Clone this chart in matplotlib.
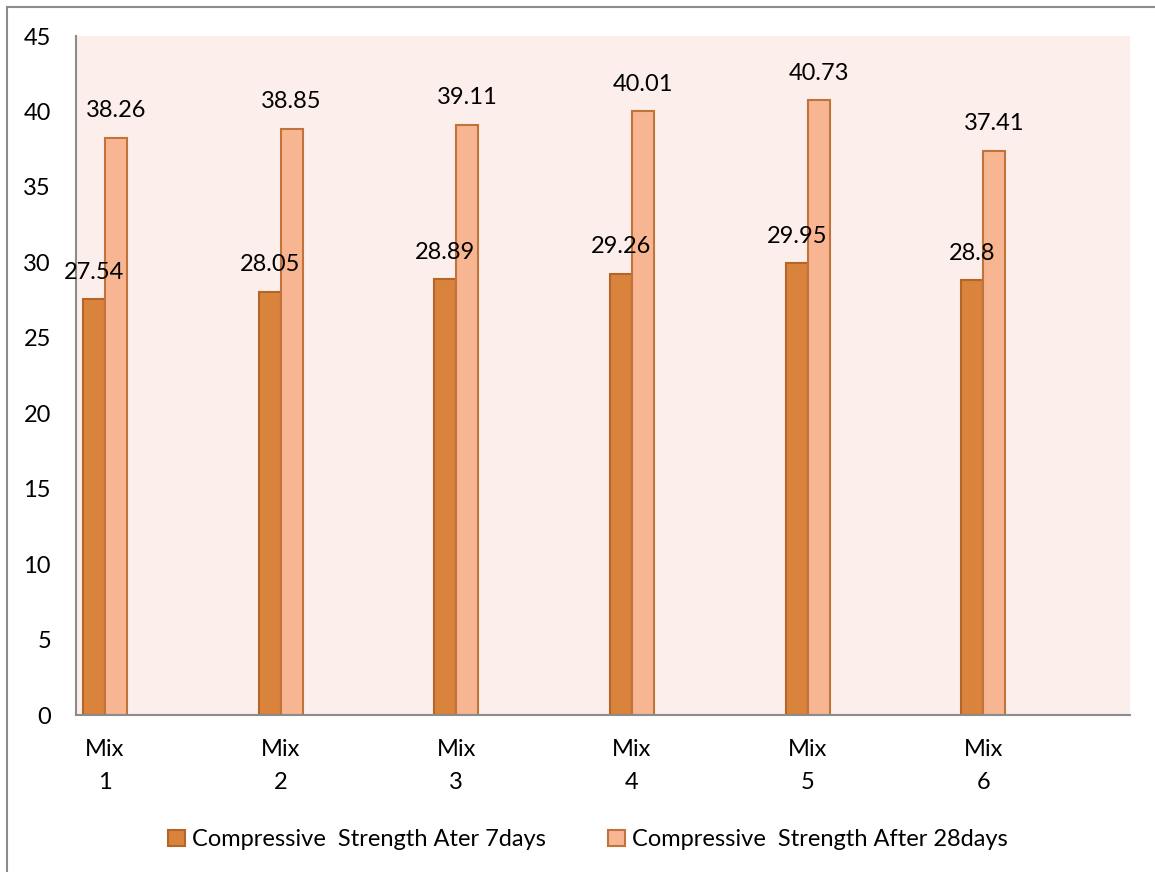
import numpy as np
import matplotlib.pyplot as plt
from matplotlib.patches import Patch
from matplotlib.lines import Line2D

plt.rcParams['font.family'] = ['Lato', 'DejaVu Sans']

mixes = ['Mix\n1', 'Mix\n2', 'Mix\n3', 'Mix\n4', 'Mix\n5', 'Mix\n6']
day7 = [27.54, 28.05, 28.89, 29.26, 29.95, 28.8]
day28 = [38.26, 38.85, 39.11, 40.01, 40.73, 37.41]
day7_labels = ['27.54', '28.05', '28.89', '29.26', '29.95', '28.8']
day28_labels = ['38.26', '38.85', '39.11', '40.01', '40.73', '37.41']

dark = '#DA833C'
dark_edge = '#B4652A'
light = '#F8B592'
light_edge = '#C0733A'
fs = 17

fig = plt.figure(figsize=(11.55, 8.72), dpi=100)
ax = fig.add_axes([0.0658, 0.180, 0.9126, 0.7787])
ax.set_facecolor('#FCEEEA')

x = np.arange(len(mixes))
w = 0.125
b1 = ax.bar(x - w / 2, day7, w, color=dark, edgecolor=dark_edge, linewidth=1.5)
b2 = ax.bar(x + w / 2, day28, w, color=light, edgecolor=light_edge, linewidth=1.5)

for rect, lab in zip(b1, day7_labels):
    ax.annotate(lab, (rect.get_x() + rect.get_width() / 2, rect.get_height()),
                xytext=(0, 19.5), textcoords='offset points',
                ha='center', va='center', fontsize=fs)
for rect, lab in zip(b2, day28_labels):
    ax.annotate(lab, (rect.get_x() + rect.get_width() / 2, rect.get_height()),
                xytext=(0, 19.5), textcoords='offset points',
                ha='center', va='center', fontsize=fs)

ax.set_xlim(-0.165, 5.835)
ax.set_ylim(0, 45)
ax.set_yticks(np.arange(0, 46, 5))
ax.set_xticks(x)
ax.set_xticklabels(mixes, linespacing=1.75)
ax.tick_params(axis='y', length=0, pad=18, labelsize=fs)
ax.tick_params(axis='x', length=0, pad=17, labelsize=fs)

for s in ['top', 'right']:
    ax.spines[s].set_visible(False)
for s in ['left', 'bottom']:
    ax.spines[s].set_color('#8C8C8C')
    ax.spines[s].set_linewidth(1.5)

handles = [Patch(facecolor=dark, edgecolor=dark_edge, linewidth=1.5),
           Patch(facecolor=light, edgecolor=light_edge, linewidth=1.5)]
fig.legend(handles, ['Compressive  Strength Ater 7days', 'Compressive  Strength After 28days'],
           loc='center', bbox_to_anchor=(0.509, 0.037), ncol=2, frameon=False,
           fontsize=fs, handlelength=0.72, handleheight=0.72, handletextpad=0.3,
           columnspacing=2.6)

# chart border (top and left edges)
fig.add_artist(Line2D([7 / 1155, 1], [1 - 7 / 872, 1 - 7 / 872], color='#8C8C8C', lw=1.5))
fig.add_artist(Line2D([7 / 1155, 7 / 1155], [0, 1 - 7 / 872], color='#8C8C8C', lw=1.5))

fig.savefig('out.png', dpi=100)
